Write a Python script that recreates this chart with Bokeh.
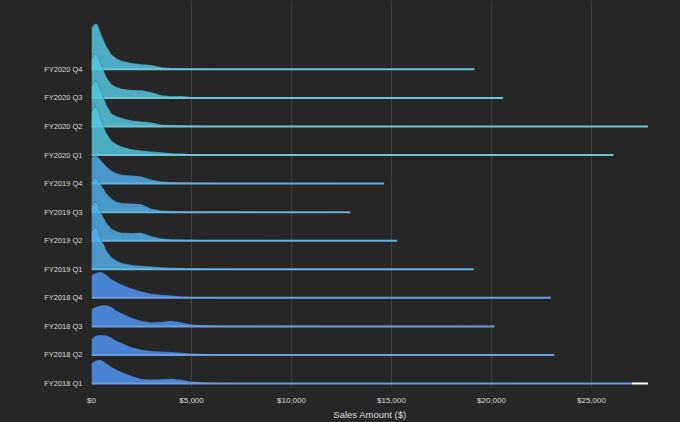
import bokeh.plotting as bkp
from bokeh.models import FixedTicker, NumeralTickFormatter
from bokeh.embed import file_html
from bokeh.resources import INLINE

# Quarters from bottom to top
quarters = ["FY2018 Q1", "FY2018 Q2", "FY2018 Q3", "FY2018 Q4",
            "FY2019 Q1", "FY2019 Q2", "FY2019 Q3", "FY2019 Q4",
            "FY2020 Q1", "FY2020 Q2", "FY2020 Q3", "FY2020 Q4"]

# Sales amount grid ($) where the density was read
grid = [0, 150, 300, 500, 750, 1000, 1250, 1500, 2000, 2500, 3000, 3500, 4000, 4500, 5000, 6000, 7000]

# Largest sale of each quarter (end of the ridge line)
max_sale = [27020, 23140, 20150, 22975,
            19110, 15280, 12935, 14630,
            26100, 27820, 20580, 19150]

# extra highlighted segment on FY2018 Q1
highlight = [27020, 27820]

# Density heights (in ridge rows) on the grid
fy2018_q1 = [0.70, 0.78, 0.82, 0.82, 0.70, 0.58, 0.48, 0.40, 0.26, 0.16, 0.14, 0.15, 0.17, 0.13, 0.07, 0.03, 0.02]
fy2018_q2 = [0.56, 0.65, 0.69, 0.70, 0.68, 0.60, 0.50, 0.42, 0.27, 0.18, 0.14, 0.12, 0.10, 0.08, 0.05, 0.03, 0.02]
fy2018_q3 = [0.60, 0.66, 0.70, 0.74, 0.74, 0.68, 0.55, 0.46, 0.30, 0.19, 0.14, 0.16, 0.20, 0.14, 0.07, 0.03, 0.02]
fy2018_q4 = [0.78, 0.85, 0.89, 0.90, 0.80, 0.65, 0.55, 0.47, 0.33, 0.22, 0.14, 0.11, 0.08, 0.05, 0.03, 0.02, 0.01]
fy2019_q1 = [1.30, 1.47, 1.40, 1.05, 0.65, 0.42, 0.30, 0.22, 0.15, 0.12, 0.10, 0.07, 0.05, 0.04, 0.03, 0.02, 0.01]
fy2019_q2 = [1.20, 1.37, 1.30, 0.95, 0.62, 0.42, 0.33, 0.28, 0.27, 0.28, 0.16, 0.08, 0.05, 0.04, 0.03, 0.02, 0.01]
fy2019_q3 = [1.05, 1.22, 1.15, 0.92, 0.65, 0.47, 0.36, 0.32, 0.30, 0.28, 0.12, 0.06, 0.04, 0.03, 0.02, 0.01, 0.01]
fy2019_q4 = [0.90, 1.00, 0.95, 0.78, 0.60, 0.45, 0.36, 0.31, 0.28, 0.25, 0.13, 0.07, 0.05, 0.04, 0.03, 0.02, 0.01]
fy2020_q1 = [1.50, 1.70, 1.62, 1.20, 0.75, 0.50, 0.38, 0.30, 0.20, 0.16, 0.12, 0.10, 0.06, 0.05, 0.03, 0.02, 0.01]
fy2020_q2 = [1.40, 1.60, 1.55, 1.20, 0.75, 0.45, 0.36, 0.30, 0.21, 0.17, 0.14, 0.06, 0.05, 0.04, 0.03, 0.02, 0.01]
fy2020_q3 = [1.35, 1.55, 1.50, 1.15, 0.72, 0.48, 0.38, 0.32, 0.28, 0.27, 0.20, 0.09, 0.06, 0.07, 0.03, 0.02, 0.01]
fy2020_q4 = [1.45, 1.60, 1.58, 1.20, 0.80, 0.52, 0.38, 0.30, 0.22, 0.18, 0.15, 0.07, 0.05, 0.04, 0.02, 0.015, 0.01]

densities = [fy2018_q1, fy2018_q2, fy2018_q3, fy2018_q4,
             fy2019_q1, fy2019_q2, fy2019_q3, fy2019_q4,
             fy2020_q1, fy2020_q2, fy2020_q3, fy2020_q4]

x_ticks = [0, 5000, 10000, 15000, 20000, 25000]

BG = "#262626"
FILL = {"FY2018": "#5094f0", "FY2019": "#50ade6", "FY2020": "#54c4de"}
LINE = {"FY2018": "#6b9fe2", "FY2019": "#68b2dc", "FY2020": "#6cc4d4"}
FONT = "Liberation Sans"

p = bkp.figure(
    width=680, height=422,
    x_range=(0, 27850), y_range=(-0.14, 13.41),
    output_backend="svg", toolbar_location=None,
    background_fill_color=BG, border_fill_color=BG,
    min_border_left=91, min_border_right=32, min_border_top=0, min_border_bottom=34,
)
p.outline_line_color = None

# draw from the top row down so lower ridges lie in front
for i in reversed(range(len(quarters))):
    year = quarters[i].split()[0]
    xs = grid + [max_sale[i]]
    top = [i + d for d in densities[i]] + [i]
    p.varea(x=xs, y1=[i] * len(xs), y2=top, fill_color=FILL[year], fill_alpha=0.85)
    p.line(x=xs, y=top, line_color="#1e3a55", line_width=0.8, line_alpha=0.35)
    p.line(x=[0, max_sale[i]], y=[i, i], line_color=LINE[year], line_width=2)

p.line(x=highlight, y=[0, 0], line_color="#ffffff", line_width=2)

p.yaxis.ticker = FixedTicker(ticks=list(range(len(quarters))))
p.yaxis.major_label_overrides = {i: q for i, q in enumerate(quarters)}
p.xaxis.ticker = FixedTicker(ticks=x_ticks)
p.xaxis.formatter = NumeralTickFormatter(format="$0,0")
p.xaxis.axis_label = "Sales Amount ($)"

for ax in (p.xaxis, p.yaxis):
    ax.axis_line_color = None
    ax.major_tick_line_color = None
    ax.minor_tick_line_color = None
    ax.major_label_text_color = "#dddddd"
    ax.major_label_text_font = FONT
    ax.major_label_text_font_size = "8px"
p.yaxis.major_label_text_font_size = "7.5px"
p.yaxis.major_label_standoff = 3
p.xaxis.major_label_standoff = 2
p.xaxis.axis_label_text_color = "#dddddd"
p.xaxis.axis_label_text_font = FONT
p.xaxis.axis_label_text_font_size = "9.5px"
p.xaxis.axis_label_text_font_style = "normal"
p.xaxis.axis_label_standoff = 1

p.xgrid.grid_line_color = "#464646"
p.xgrid.grid_line_width = 0.8
p.ygrid.grid_line_color = None

html = file_html(p, INLINE)
html = html.replace("<body>", '<body style="background-color:%s;">' % BG)
open("out.html", "w").write(html)
